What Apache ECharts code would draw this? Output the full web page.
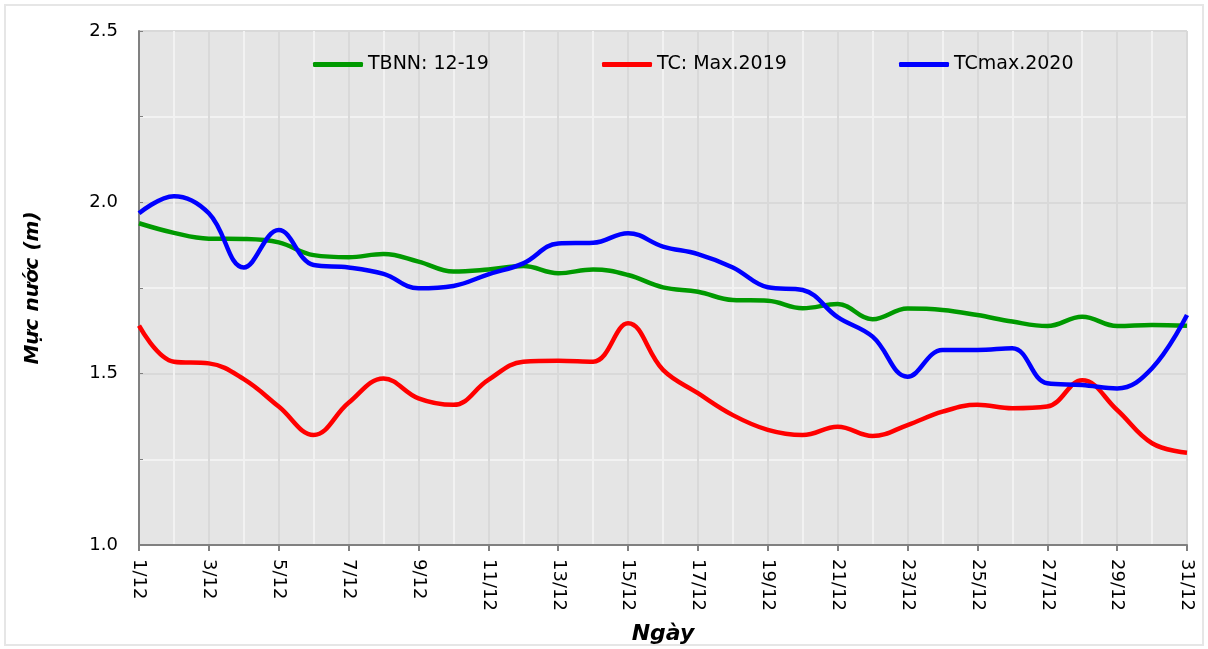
<!DOCTYPE html>
<html>
<head>
<meta charset="utf-8">
<script src="https://cdn.jsdelivr.net/npm/echarts@6/dist/echarts.min.js"></script>
<style>
    html, body { margin: 0; padding: 0; background: #fff; }
    #chart { width: 1208px; height: 649px; }
</style>
</head>
<body>
<div id="chart"></div>
<script>
// DATA
const days = ['1/12', '2/12', '3/12', '4/12', '5/12', '6/12', '7/12', '8/12', '9/12', '10/12',
    '11/12', '12/12', '13/12', '14/12', '15/12', '16/12', '17/12', '18/12', '19/12', '20/12',
    '21/12', '22/12', '23/12', '24/12', '25/12', '26/12', '27/12', '28/12', '29/12', '30/12', '31/12'];

const tbnn = [1.939, 1.911, 1.894, 1.893, 1.883, 1.846, 1.840, 1.849, 1.827, 1.798,
    1.804, 1.814, 1.793, 1.804, 1.788, 1.752, 1.739, 1.715, 1.713, 1.691,
    1.703, 1.659, 1.690, 1.686, 1.671, 1.652, 1.639, 1.666, 1.639, 1.642, 1.640];

const tc2019 = [1.640, 1.535, 1.530, 1.484, 1.404, 1.321, 1.415, 1.486, 1.428, 1.409,
    1.482, 1.535, 1.538, 1.535, 1.647, 1.511, 1.443, 1.379, 1.336, 1.321,
    1.345, 1.318, 1.350, 1.389, 1.409, 1.399, 1.404, 1.481, 1.394, 1.297, 1.269];

const tc2020 = [1.968, 2.018, 1.968, 1.810, 1.919, 1.817, 1.810, 1.791, 1.749, 1.756,
    1.790, 1.822, 1.880, 1.882, 1.910, 1.871, 1.849, 1.810, 1.752, 1.744,
    1.665, 1.608, 1.491, 1.569, 1.569, 1.574, 1.472, 1.467, 1.457, 1.516, 1.671];

const seriesNames = ['TBNN: 12-19', 'TC: Max.2019', 'TCmax.2020'];
const seriesColors = ['#009900', '#ff0000', '#0000ff'];

const chartPlaceholder = document.querySelector('#chart');
const chart = echarts.init(chartPlaceholder);

const fontName = 'DejaVu Sans';

function makeLegend(name, left) {
    return {
        data: [name],
        left: left,
        top: 55,
        padding: 0,
        icon: 'roundRect',
        itemWidth: 50,
        itemHeight: 5,
        textStyle: {
            color: '#000',
            fontFamily: fontName,
            fontSize: 19
        }
    };
}

function makeSeries(index, values) {
    return {
        name: seriesNames[index],
        type: 'line',
        data: values,
        smooth: 0.4,
        symbol: 'none',
        lineStyle: {
            color: seriesColors[index],
            width: 4.5
        },
        itemStyle: {
            color: seriesColors[index]
        }
    };
}

const option = {
    backgroundColor: '#fff',
    animation: false,
    graphic: [
        {
            type: 'rect',
            shape: { x: 5, y: 5, width: 1198, height: 640 },
            style: { fill: 'none', stroke: '#e6e6e6', lineWidth: 2 },
            silent: true
        }
    ],
    legend: [
        makeLegend(seriesNames[0], 313),
        makeLegend(seriesNames[1], 602),
        makeLegend(seriesNames[2], 899)
    ],
    grid: {
        left: 139,
        right: 21,
        top: 31,
        bottom: 104,
        containLabel: false,
        outerBoundsMode: 'none',
        show: true,
        backgroundColor: '#e5e5e5',
        borderWidth: 0
    },
    xAxis: {
        type: 'category',
        data: days,
        boundaryGap: false,
        name: 'Ngày',
        nameLocation: 'middle',
        nameGap: 78,
        nameTextStyle: {
            color: '#000',
            fontFamily: fontName,
            fontSize: 22,
            fontWeight: 'bold',
            fontStyle: 'italic'
        },
        axisLine: {
            lineStyle: { color: '#808080', width: 2 }
        },
        axisTick: {
            interval: 1,
            length: 6,
            lineStyle: { color: '#808080', width: 2 }
        },
        axisLabel: {
            interval: 1,
            rotate: -90,
            margin: 14,
            color: '#000',
            fontFamily: fontName,
            fontSize: 18
        },
        splitLine: {
            show: true,
            interval: 0,
            lineStyle: { color: ['#d9d9d9', '#f2f2f2'], width: 2 }
        }
    },
    yAxis: {
        type: 'value',
        min: 1,
        max: 2.5,
        interval: 0.5,
        name: 'Mực nước (m)',
        nameLocation: 'middle',
        nameGap: 96,
        nameTextStyle: {
            color: '#000',
            fontFamily: fontName,
            fontSize: 20,
            fontWeight: 'bold',
            fontStyle: 'italic'
        },
        axisLine: {
            show: true,
            lineStyle: { color: '#808080', width: 2 }
        },
        axisTick: {
            show: true,
            inside: true,
            length: 4,
            lineStyle: { color: '#808080' }
        },
        minorTick: {
            show: true,
            splitNumber: 2,
            length: 4,
            lineStyle: { color: '#808080' }
        },
        axisLabel: {
            margin: 21,
            color: '#000',
            fontFamily: fontName,
            fontSize: 18,
            formatter: function (value) {
                return value.toFixed(1);
            }
        },
        splitLine: {
            show: true,
            lineStyle: { color: '#d9d9d9', width: 2 }
        },
        minorSplitLine: {
            show: true,
            lineStyle: { color: '#f2f2f2', width: 2 }
        }
    },
    series: [
        makeSeries(0, tbnn),
        makeSeries(1, tc2019),
        makeSeries(2, tc2020)
    ]
};

chart.setOption(option);
</script>
</body>
</html>
